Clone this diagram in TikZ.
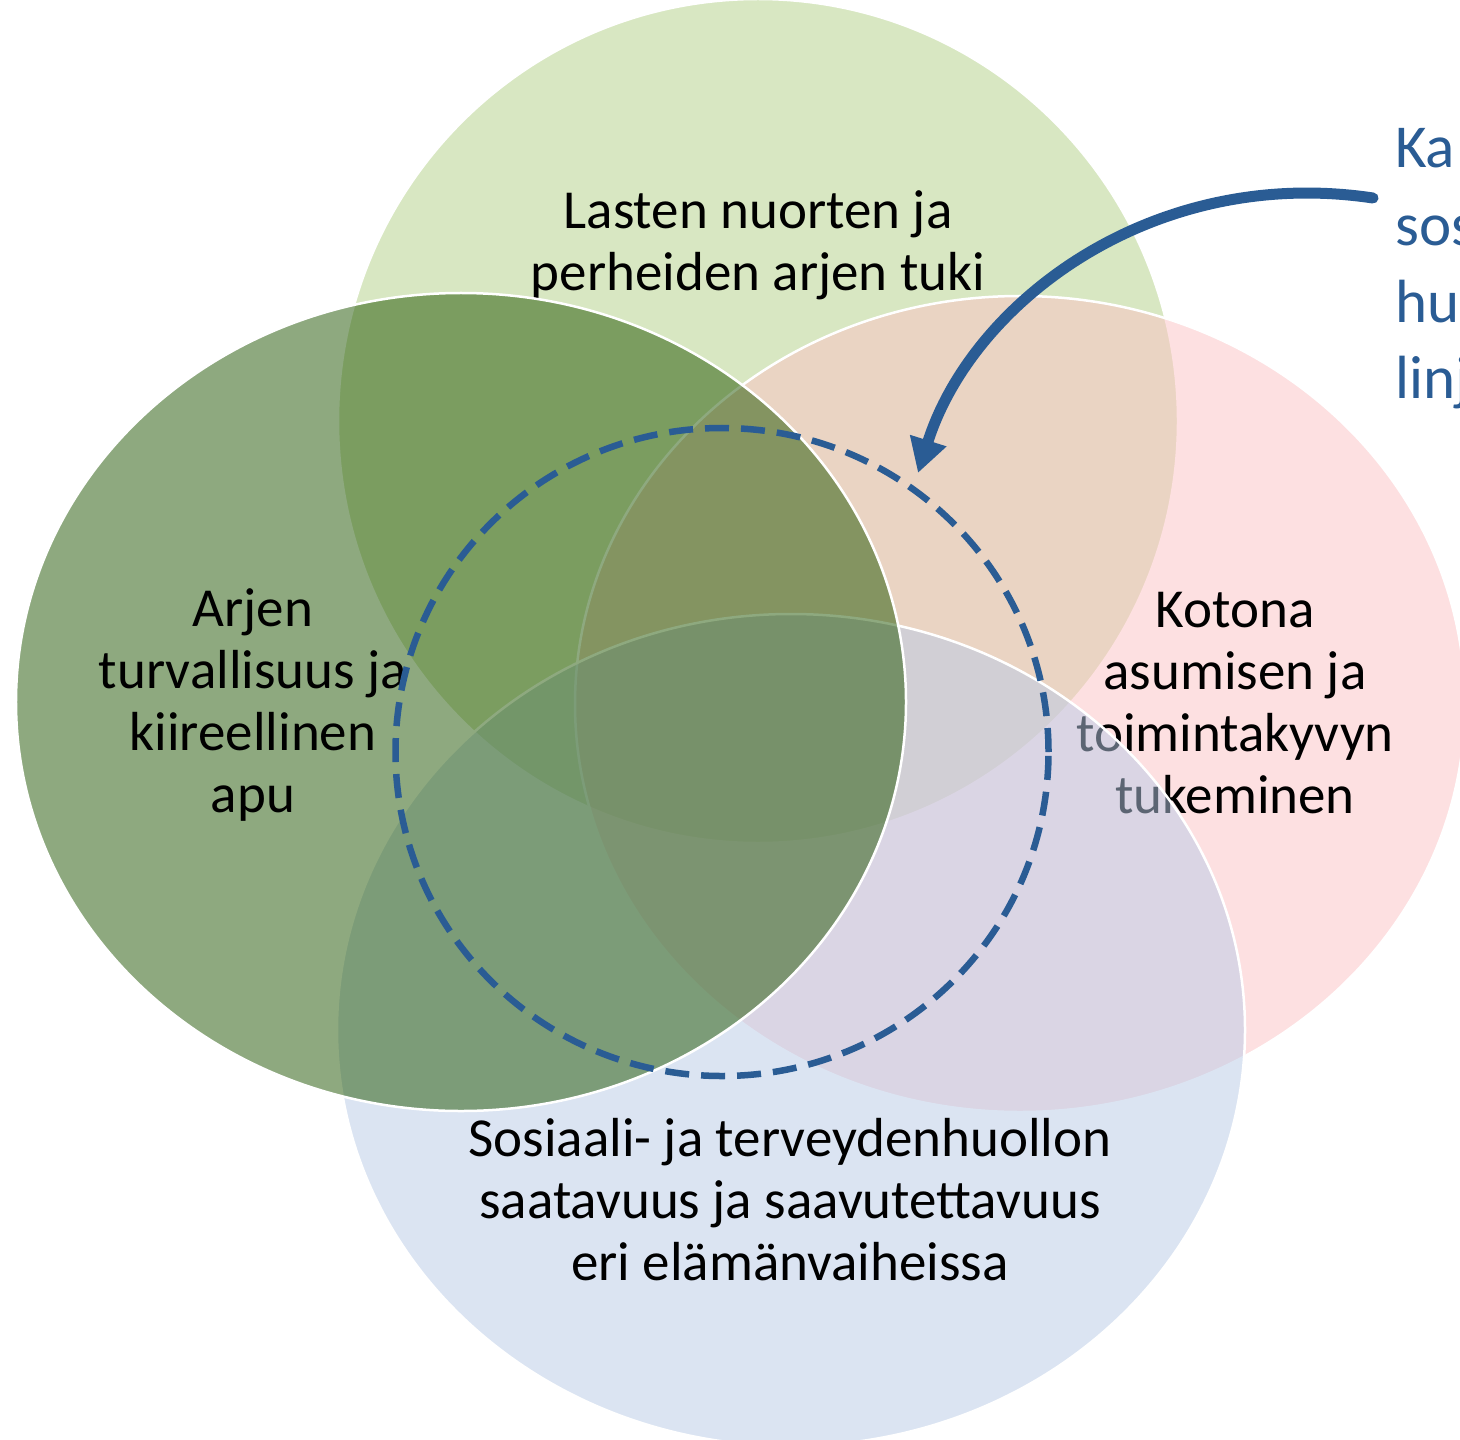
\documentclass[tikz,border=0pt]{standalone}
\usepackage{fontspec}
\setmainfont{Carlito}
\usetikzlibrary{shapes.geometric,arrows.meta}
\definecolor{topgreen}{RGB}{179,209,135}
\definecolor{leftgreen}{RGB}{31,85,0}
\definecolor{pinkc}{RGB}{253,195,197}
\definecolor{bluec}{RGB}{185,203,231}
\definecolor{accent}{RGB}{42,92,148}
\begin{document}
\begin{tikzpicture}[x=1bp,y=-1bp,
  venn/.style={ellipse, draw=white, line width=2.5bp, fill opacity=0.5, inner sep=0pt},
  lbl/.style={font=\fontsize{55bp}{62bp}\selectfont, align=center, text=black, inner sep=0pt},
  side/.style={font=\fontsize{61bp}{74bp}\selectfont, text=accent, anchor=base west, inner sep=0pt}]
\fill[white] (0,0) rectangle (1460,1440);
\useasboundingbox (0,0) rectangle (1460,1440);
\clip (0,0) rectangle (1460,1440);
\node[venn, fill=topgreen, minimum width=840bp, minimum height=844bp] (top) at (758,421) {};
\node[lbl] (toplbl) at (758,245) {Lasten nuorten ja\\perheiden arjen tuki};
\node[venn, fill=pinkc, minimum width=890bp, minimum height=816bp] (right) at (1020,704) {};
\node[lbl] (rightlbl) at (1235,703) {Kotona\\asumisen ja\\toimintakyvyn\\tukeminen};
\node[venn, fill=bluec, minimum width=908bp, minimum height=832bp] (bottom) at (791,1030) {};
\node[lbl] (bottomlbl) at (790,1200) {Sosiaali- ja terveydenhuollon\\saatavuus ja saavutettavuus\\eri elämänvaiheissa};
\node[venn, fill=leftgreen, minimum width=890bp, minimum height=818bp] (left) at (461,702) {};
\node[lbl] (leftlbl) at (253,705) {Arjen\\turvallisuus ja\\kiireellinen\\apu};
\node[ellipse, draw=accent, line width=6.5bp, dash pattern=on 24bp off 12bp, minimum width=653bp, minimum height=648bp, inner sep=0pt] (core) at (722,752) {};
\coordinate (arrowstart) at (1373,198);
\coordinate (arrowtip) at (918,473);
\draw[accent, line width=11bp, line cap=round, -{Triangle[length=34bp,width=36bp]}] (arrowstart) .. controls (1153,165) and (972,302) .. (arrowtip);
\node[side] (s1) at (1395,168) {Ka};
\node[side] (s2) at (1395,245) {sos};
\node[side] (s3) at (1395,322) {hu};
\node[side] (s4) at (1395,398) {linj};
\end{tikzpicture}
\end{document}
